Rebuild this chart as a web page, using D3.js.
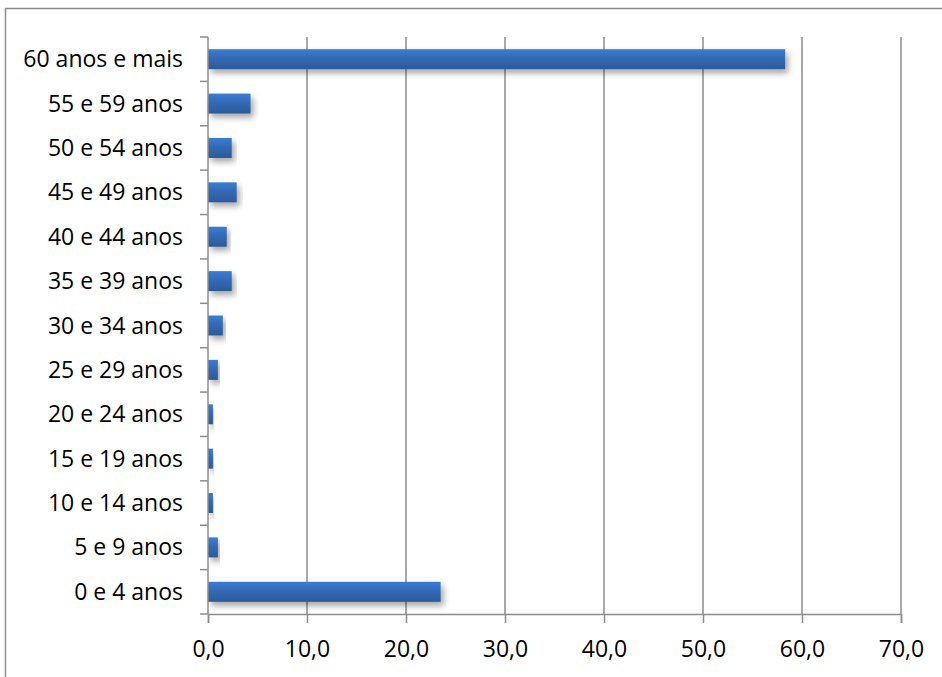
<!DOCTYPE html>
<html>
<head>
<meta charset="utf-8">
<script src="https://cdn.jsdelivr.net/npm/d3@7"></script>
<style>
  html, body { margin: 0; padding: 0; background: #fff; }
  svg { display: block; }
  text { font-family: "Open Sans", Lato, sans-serif; fill: #000; }
</style>
</head>
<body>
<svg id="chart" width="942" height="677"></svg>
<script>
// Age groups, top to bottom
const categories = [
  "60 anos e mais", "55 e 59 anos", "50 e 54 anos", "45 e 49 anos",
  "40 e 44 anos", "35 e 39 anos", "30 e 34 anos", "25 e 29 anos",
  "20 e 24 anos", "15 e 19 anos", "10 e 14 anos", "5 e 9 anos", "0 e 4 anos"
];
// Percentage per age group
const values = [58.3, 4.3, 2.4, 2.9, 1.9, 2.4, 1.5, 1.0, 0.5, 0.5, 0.5, 1.0, 23.5];
// Horizontal axis ticks
const xTicks = [0, 10, 20, 30, 40, 50, 60, 70];

const svg = d3.select("#chart");
const margin = { left: 208, right: 41, top: 37, bottom: 63 };
const W = 942, H = 677;
const FONT = 23;

const defs = svg.append("defs");
const grad = defs.append("linearGradient")
  .attr("id", "barGrad").attr("x1", 0).attr("y1", 0).attr("x2", 0).attr("y2", 1);
grad.append("stop").attr("offset", "0%").attr("stop-color", "#3b7dd2");
grad.append("stop").attr("offset", "45%").attr("stop-color", "#3469b5");
grad.append("stop").attr("offset", "100%").attr("stop-color", "#2b5a96");

const shadow = defs.append("filter").attr("id", "shadow")
  .attr("x", "-10%").attr("y", "-40%").attr("width", "130%").attr("height", "200%");
shadow.append("feGaussianBlur").attr("in", "SourceAlpha").attr("stdDeviation", 3).attr("result", "b");
shadow.append("feOffset").attr("in", "b").attr("dx", 3).attr("dy", 4).attr("result", "o");
shadow.append("feComponentTransfer").attr("in", "o").attr("result", "s")
  .append("feFuncA").attr("type", "linear").attr("slope", 0.35);
const merge = shadow.append("feMerge");
merge.append("feMergeNode").attr("in", "s");
merge.append("feMergeNode").attr("in", "SourceGraphic");

// Chart frame
svg.append("path")
  .attr("d", `M5.5,${H + 2} V8.5 H${W + 2}`)
  .attr("fill", "none").attr("stroke", "#8c8c8c").attr("stroke-width", 1.5);

const x = d3.scaleLinear().domain([0, 70]).range([margin.left, W - margin.right]);
const band = d3.scaleBand().domain(categories).range([margin.top, H - margin.bottom]);

const fmt = d => d.toFixed(1).replace(".", ",");

// Vertical gridlines
svg.append("g").selectAll("line").data(xTicks.slice(1)).join("line")
  .attr("x1", d => x(d)).attr("x2", d => x(d))
  .attr("y1", margin.top).attr("y2", H - margin.bottom)
  .attr("stroke", "#8c8c8c").attr("stroke-width", 1.5);

// Bars
svg.append("g").selectAll("rect").data(values).join("rect")
  .attr("x", x(0))
  .attr("y", (d, i) => band(categories[i]) + band.bandwidth() / 2 - 10)
  .attr("width", d => x(d) - x(0))
  .attr("height", 20)
  .attr("fill", "url(#barGrad)")
  .attr("filter", "url(#shadow)");

// X axis
const xAxis = svg.append("g")
  .attr("transform", `translate(0,${H - margin.bottom})`)
  .call(d3.axisBottom(x).tickValues(xTicks).tickFormat(fmt).tickSize(9).tickPadding(18));
xAxis.select(".domain").attr("stroke", "#8c8c8c").attr("stroke-width", 1.5);
xAxis.selectAll(".tick line").attr("stroke", "#8c8c8c").attr("stroke-width", 1.5);
xAxis.selectAll(".tick text").attr("font-size", FONT).attr("font-family", null);

// Y axis with ticks between categories
const yAxisG = svg.append("g").attr("transform", `translate(${margin.left},0)`);
yAxisG.append("line")
  .attr("x1", 0).attr("x2", 0).attr("y1", margin.top).attr("y2", H - margin.bottom)
  .attr("stroke", "#8c8c8c").attr("stroke-width", 1.5);
const boundaries = categories.map(c => band(c)).concat([H - margin.bottom]);
yAxisG.selectAll("line.tk").data(boundaries).join("line").attr("class", "tk")
  .attr("x1", -8).attr("x2", 0).attr("y1", d => d).attr("y2", d => d)
  .attr("stroke", "#8c8c8c").attr("stroke-width", 1.5);
yAxisG.selectAll("text").data(categories).join("text")
  .attr("x", -25)
  .attr("y", d => band(d) + band.bandwidth() / 2)
  .attr("dy", "0.35em")
  .attr("text-anchor", "end")
  .attr("font-size", FONT)
  .text(d => d);
</script>
</body>
</html>
